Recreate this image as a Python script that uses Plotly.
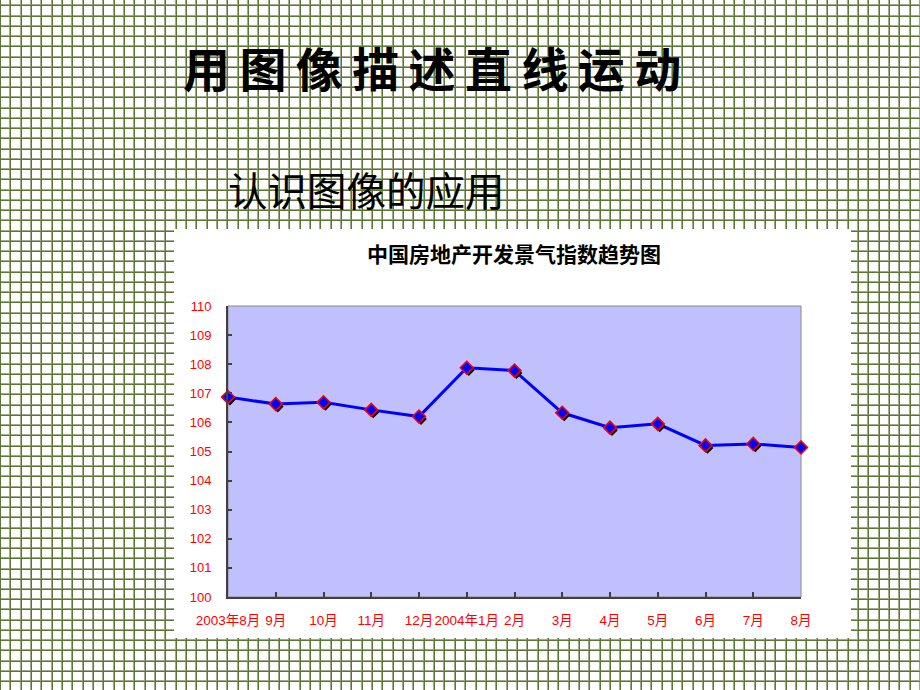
import math
import plotly.graph_objects as go

# ---- data ----
categories = ["2003年8月", "9月", "10月", "11月", "12月", "2004年1月", "2月",
              "3月", "4月", "5月", "6月", "7月", "8月"]
values = [106.87, 106.63, 106.69, 106.43, 106.20, 107.88, 107.78,
          106.33, 105.82, 105.95, 105.21, 105.26, 105.14]
y_ticks = list(range(100, 111))

main_title = "用图像描述直线运动"
sub_title = "认识图像的应用"
chart_title = "中国房地产开发景气指数趋势图"

W, H = 920, 690


def fx(x):
    return x / W


def fy(y):
    return 1 - y / H


# plot area in pixels
PL, PR, PT, PB = 228, 801, 306, 597
n = len(categories)
step_x = (PR - PL) / (n - 1)
step_y = (PB - PT) / (y_ticks[-1] - y_ticks[0])
dx = 2.0 / step_x
dy = 2.5 / step_y

fig = go.Figure()
fig.add_trace(go.Scatter(x=categories, y=values, mode="lines",
                         line=dict(color="#0000ff", width=3),
                         xaxis="x", yaxis="y", cliponaxis=False,
                         hoverinfo="skip", showlegend=False))
fig.add_trace(go.Scatter(x=categories, y=values, mode="markers",
                         marker=dict(symbol="diamond", size=9, color="#000000"),
                         xaxis="x2", yaxis="y2", cliponaxis=False,
                         hoverinfo="skip", showlegend=False))
fig.add_trace(go.Scatter(x=categories, y=values, mode="markers",
                         marker=dict(symbol="diamond", size=10, color="#0000ff",
                                     line=dict(color="#ff0000", width=1.5)),
                         xaxis="x3", yaxis="y3", cliponaxis=False,
                         showlegend=False))

# ---- background squared paper ----
vx = [0.5 + k * W / 89 for k in range(0, 90)]
hy = [5.8 + j * 10.24 for j in range(0, 68) if 5.8 + j * 10.24 < H]


def grid_path(off):
    parts = []
    for x in vx:
        xp = math.floor(x) + off
        parts.append(f"M{fx(xp):.5f},0 L{fx(xp):.5f},1")
    for y in hy:
        yp = math.floor(y) + off
        parts.append(f"M0,{fy(yp):.5f} L1,{fy(yp):.5f}")
    return " ".join(parts)


shapes = [
    dict(type="path", xref="paper", yref="paper", path=grid_path(-0.5),
         line=dict(color="#a2ac88", width=1.1), layer="below"),
    dict(type="path", xref="paper", yref="paper", path=grid_path(0.5),
         line=dict(color="#5c7636", width=1.0), layer="below"),
    dict(type="rect", xref="paper", yref="paper",
         x0=fx(174), x1=fx(851), y0=fy(638), y1=fy(229),
         fillcolor="#ffffff", line=dict(width=0), layer="below"),
    dict(type="rect", xref="x domain", yref="y domain", x0=0, x1=1, y0=0, y1=1,
         fillcolor="#c0c0ff", line=dict(color="#8a8a8a", width=1), layer="below"),
]

y_font = dict(family="Liberation Sans, Arial, Noto Sans CJK SC", size=13, color="#ff0000")
x_font = dict(family="Liberation Sans, Arial, Noto Sans CJK SC", size=13.5, color="#ff0000")

fig.update_layout(
    width=W, height=H,
    margin=dict(l=0, r=0, t=0, b=0, autoexpand=False),
    paper_bgcolor="#ffffff",
    plot_bgcolor="#c0c0ff",
    showlegend=False,
    shapes=shapes,
    xaxis=dict(domain=[fx(PL), fx(PR)], type="category",
               categoryorder="array", categoryarray=categories,
               range=[0, n - 1], showline=True, linecolor="#404040", linewidth=2,
               ticks="inside", ticklen=5, tickwidth=1.5, tickcolor="#404040",
               showgrid=False, zeroline=False, tickfont=x_font, tickangle=0,
               ticklabelstandoff=10, fixedrange=True),
    yaxis=dict(domain=[fy(PB), fy(PT)], range=[y_ticks[0], y_ticks[-1]],
               tickvals=y_ticks, showline=True, linecolor="#404040", linewidth=2,
               ticks="inside", ticklen=4, tickwidth=1.5, tickcolor="#404040",
               showgrid=False, zeroline=False, tickfont=y_font,
               ticklabelstandoff=12, fixedrange=True),
    xaxis2=dict(overlaying="x", type="category", categoryorder="array",
                categoryarray=categories, range=[-dx, n - 1 - dx], visible=False,
                fixedrange=True),
    yaxis2=dict(overlaying="y", range=[y_ticks[0] + dy, y_ticks[-1] + dy],
                visible=False, fixedrange=True),
    xaxis3=dict(overlaying="x", type="category", categoryorder="array",
                categoryarray=categories, range=[0, n - 1], visible=False,
                fixedrange=True),
    yaxis3=dict(overlaying="y", range=[y_ticks[0], y_ticks[-1]],
                visible=False, fixedrange=True),
    annotations=[
        dict(text="<b>" + "\u2009".join(main_title) + "</b>", xref="paper", yref="paper",
             x=fx(432), y=fy(66), xanchor="center", yanchor="middle", showarrow=False,
             font=dict(family="Noto Sans CJK SC", size=47, color="#000000")),
        dict(text=sub_title, xref="paper", yref="paper",
             x=fx(226), y=fy(189), xanchor="left", yanchor="middle", showarrow=False,
             font=dict(family="Noto Sans CJK SC", size=39.5, color="#000000")),
        dict(text="<b>" + chart_title + "</b>", xref="paper", yref="paper",
             x=fx(514), y=fy(253), xanchor="center", yanchor="middle", showarrow=False,
             font=dict(family="Noto Sans CJK SC", size=21, color="#000000")),
    ],
)

fig.write_html("out.html", config={"displayModeBar": False},
               post_script="document.body.style.margin='0';document.body.style.overflow='hidden';")
